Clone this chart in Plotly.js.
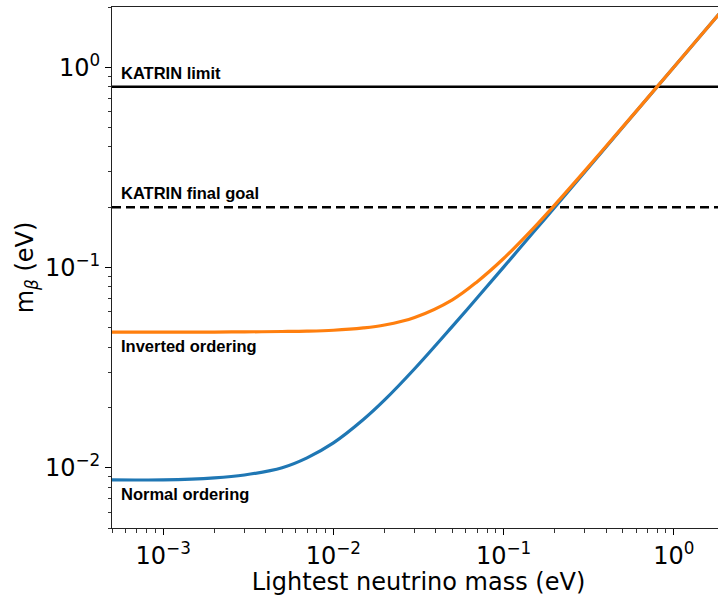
<!DOCTYPE html>
<html>
<head>
<meta charset="utf-8">
<script src="https://cdn.plot.ly/plotly-3.0.1.min.js"></script>
<style>
html,body{margin:0;padding:0;overflow:hidden;background:#fff;}
#chart{width:725px;height:596px;}
</style>
</head>
<body>
<div id="chart"></div>
<script>
// Lightest neutrino mass (eV)
const lightestMass = [0.0005, 0.001, 0.002, 0.003, 0.005, 0.007, 0.01, 0.015, 0.02, 0.03, 0.05, 0.07, 0.1, 0.15, 0.2, 0.3, 0.5, 0.7, 1.0, 1.5, 2.0];
// m_beta for normal ordering (eV)
const mBetaNormal = [0.0087, 0.0087, 0.0089, 0.0092, 0.0100, 0.0112, 0.0133, 0.0174, 0.0218, 0.0312, 0.0508, 0.0706, 0.1004, 0.1503, 0.2002, 0.3001, 0.5001, 0.7, 1.0, 1.5, 2.0];
// m_beta for inverted ordering (eV)
const mBetaInverted = [0.0476, 0.0476, 0.0476, 0.0477, 0.0479, 0.0481, 0.0486, 0.0499, 0.0516, 0.0563, 0.0690, 0.0850, 0.1109, 0.1573, 0.2055, 0.3038, 0.5023, 0.7016, 1.0011, 1.5008, 2.0006];
// KATRIN reference levels (eV)
const katrinLimit = 0.8;
const katrinGoal = 0.2;
// axis extents (eV)
const xExtent = [0.0005, 2.0];
const yExtent = [0.005, 2.0];
// ticks
const xTickVals = [0.001, 0.01, 0.1, 1];
const xTickText = ['10<sup>−3</sup>', '10<sup>−2</sup>', '10<sup>−1</sup>', '10<sup>0</sup>'];
const yTickVals = [0.01, 0.1, 1];
const yTickText = ['10<sup>−2</sup>', '10<sup>−1</sup>', '10<sup>0</sup>'];
const minorDigits = [2, 3, 4, 5, 6, 7, 8, 9];
const labels = ['KATRIN limit', 'KATRIN final goal', 'Inverted ordering', 'Normal ordering'];

function minorTicks(lo, hi) {
  const out = [];
  for (let e = Math.floor(Math.log10(lo)); e <= Math.ceil(Math.log10(hi)); e++) {
    minorDigits.forEach(d => { const v = d * Math.pow(10, e); if (v >= lo && v <= hi) out.push(v); });
  }
  return out;
}

const traces = [
  {x: xExtent, y: [katrinLimit, katrinLimit], mode: 'lines', line: {color: '#000', width: 2.5}, hoverinfo: 'skip'},
  {x: xExtent, y: [katrinGoal, katrinGoal], mode: 'lines', line: {color: '#000', width: 2.5, dash: '9px,5px'}, hoverinfo: 'skip'},
  {x: lightestMass, y: mBetaNormal, mode: 'lines', line: {color: '#1f77b4', width: 3.2, shape: 'spline'}},
  {x: lightestMass, y: mBetaInverted, mode: 'lines', line: {color: '#ff7f0e', width: 3.2, shape: 'spline'}}
];

const annFont = {family: 'Liberation Sans, Arial, sans-serif', size: 16.5, color: '#000', weight: 'bold'};
const labelX = Math.log10(0.000548);
const layout = {
  width: 725, height: 596,
  margin: {l: 112, r: 0, t: 7, b: 68},
  paper_bgcolor: '#fff', plot_bgcolor: '#fff',
  showlegend: false,
  font: {family: 'DejaVu Sans, sans-serif', size: 24, color: '#000'},
  xaxis: {
    type: 'log', range: [Math.log10(xExtent[0]), Math.log10(xExtent[1])],
    tickmode: 'array', tickvals: xTickVals, ticktext: xTickText,
    ticks: 'outside', ticklen: 6, tickwidth: 1, tickcolor: '#000',
    minor: {tickmode: 'array', tickvals: minorTicks(xExtent[0], xExtent[1]), ticks: 'outside', ticklen: 3.5, tickwidth: 0.8, tickcolor: '#000', showgrid: false},
    showgrid: false, zeroline: false,
    showline: true, linecolor: '#222', linewidth: 1, mirror: true,
    tickfont: {size: 24},
    title: {text: 'Lightest neutrino mass (eV)', font: {size: 24}, standoff: 4}
  },
  yaxis: {
    type: 'log', range: [Math.log10(yExtent[0]), Math.log10(yExtent[1])],
    tickmode: 'array', tickvals: yTickVals, ticktext: yTickText,
    ticks: 'outside', ticklen: 6, tickwidth: 1, tickcolor: '#000',
    minor: {tickmode: 'array', tickvals: minorTicks(yExtent[0], yExtent[1]), ticks: 'outside', ticklen: 3.5, tickwidth: 0.8, tickcolor: '#000', showgrid: false},
    showgrid: false, zeroline: false,
    showline: true, linecolor: '#222', linewidth: 1, mirror: true,
    tickfont: {size: 24},
    title: {text: 'm<sub><i>β</i></sub> (eV)', font: {size: 24}, standoff: 4}
  },
  annotations: [
    {x: labelX, y: Math.log10(katrinLimit), text: labels[0], xref: 'x', yref: 'y', xanchor: 'left', yanchor: 'bottom', yshift: 3, showarrow: false, font: annFont},
    {x: labelX, y: Math.log10(katrinGoal), text: labels[1], xref: 'x', yref: 'y', xanchor: 'left', yanchor: 'bottom', yshift: 3, showarrow: false, font: annFont},
    {x: labelX, y: Math.log10(mBetaInverted[0]), text: labels[2], xref: 'x', yref: 'y', xanchor: 'left', yanchor: 'top', yshift: -3, showarrow: false, font: annFont},
    {x: labelX, y: Math.log10(mBetaNormal[0]), text: labels[3], xref: 'x', yref: 'y', xanchor: 'left', yanchor: 'top', yshift: -3, showarrow: false, font: annFont}
  ]
};

Plotly.newPlot('chart', traces, layout, {displayModeBar: false, staticPlot: true});
</script>
</body>
</html>
